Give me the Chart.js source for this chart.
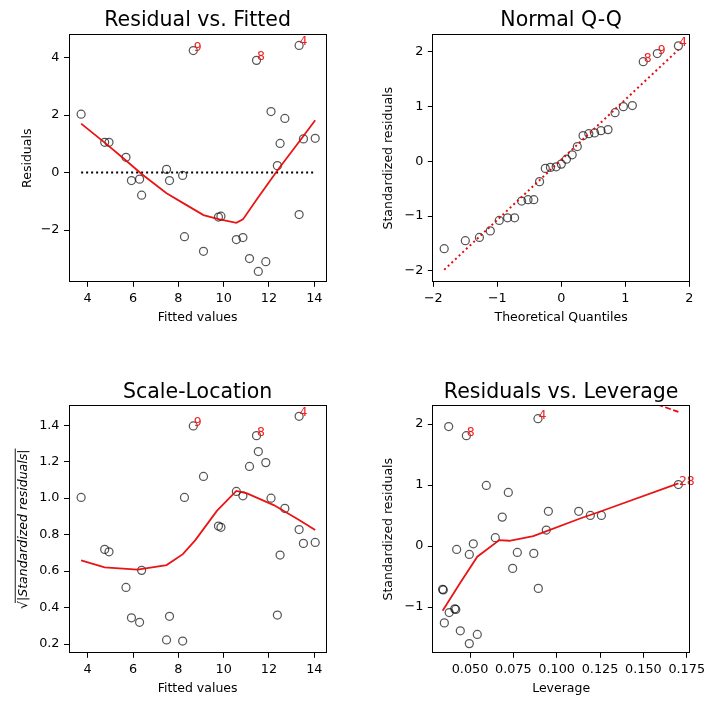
<!DOCTYPE html>
<html><head><meta charset="utf-8">
<script src="https://cdn.jsdelivr.net/npm/chart.js@4.4.1/dist/chart.umd.min.js"></script>
<style>
html,body{margin:0;padding:0;background:#fff;}
#wrap{position:relative;width:715px;height:706px;overflow:hidden;background:#fff;}
canvas{position:absolute;}
</style></head><body>
<div id="wrap">
<canvas id="c1" width="357" height="353" style="left:0;top:0"></canvas>
<canvas id="c2" width="358" height="353" style="left:357px;top:0"></canvas>
<canvas id="c3" width="357" height="353" style="left:0;top:353px"></canvas>
<canvas id="c4" width="358" height="353" style="left:357px;top:353px"></canvas>
</div>
<script>
// ---------- data ----------
// Residual vs. Fitted / Scale-Location (same observations, ordered by fitted value)
const fitted    = [3.71, 4.75, 4.94, 5.69, 5.93, 6.29, 6.38, 7.48, 7.61, 8.19, 8.27, 8.66, 9.11, 9.77, 9.88, 10.56, 10.85, 11.14, 11.45, 11.53, 11.86, 12.09, 12.37, 12.49, 12.70, 13.33, 13.33, 13.52, 14.04];
const residuals = [2.03, 1.05, 1.05, 0.53, -0.28, -0.23, -0.79, 0.11, -0.28, -0.10, -2.23, 4.24, -2.74, -1.55, -1.52, -2.33, -2.26, -2.99, 3.90, -3.44, -3.10, 2.12, 0.24, 1.01, 1.88, -1.46, 4.42, 1.17, 1.19];
const sqrtStdResid = [1.004, 0.719, 0.706, 0.510, 0.344, 0.319, 0.604, 0.222, 0.352, 0.216, 1.004, 1.396, 1.119, 0.847, 0.840, 1.037, 1.013, 1.174, 1.343, 1.256, 1.195, 1.000, 0.359, 0.688, 0.944, 0.828, 1.449, 0.752, 0.757];
const fittedLabelIdx = [11, 18, 26];
const fittedLabelText = ['9', '8', '4'];

const lowess1X = [3.71, 4.75, 5.69, 6.38, 7.48, 8.27, 9.11, 9.77, 10.56, 10.85, 11.45, 12.37, 13.33, 14.04];
const lowess1Y = [1.70, 1.04, 0.42, -0.05, -0.72, -1.09, -1.48, -1.62, -1.75, -1.63, -0.95, 0.07, 1.07, 1.82];
const zeroLineX = [3.71, 14.04];
const zeroLineY = [0, 0];

const lowess3X = [3.71, 4.75, 6.20, 7.48, 8.20, 8.75, 9.70, 10.56, 11.03, 12.21, 13.33, 14.04];
const lowess3Y = [0.659, 0.620, 0.608, 0.633, 0.693, 0.770, 0.930, 1.040, 1.026, 0.962, 0.880, 0.825];

// Normal Q-Q
const theoQuant = [-1.83, -1.50, -1.28, -1.11, -0.97, -0.84, -0.73, -0.62, -0.52, -0.43, -0.34, -0.25, -0.17, -0.08, 0.00, 0.08, 0.17, 0.25, 0.34, 0.43, 0.52, 0.62, 0.73, 0.84, 0.97, 1.11, 1.28, 1.50, 1.83];
const sortedStdResid = [-1.595, -1.45, -1.39, -1.27, -1.08, -1.03, -1.03, -0.725, -0.70, -0.70, -0.37, -0.128, -0.11, -0.10, -0.05, 0.04, 0.12, 0.27, 0.47, 0.505, 0.52, 0.56, 0.58, 0.89, 1.00, 1.02, 1.82, 1.97, 2.11];
const qqLabelIdx = [26, 27, 28];
const qqLabelText = ['8', '9', '4'];
const qqLineX = [-1.83, 1.83];
const qqLineY = [-1.98, 2.04];

// Residuals vs. Leverage
const leverage = [0.0377, 0.0479, 0.0892, 0.0594, 0.0721, 0.0686, 0.0952, 0.1127, 0.1194, 0.1258, 0.1702, 0.0940, 0.0646, 0.0519, 0.0423, 0.0496, 0.0773, 0.0868, 0.0746, 0.0894, 0.0342, 0.0346, 0.0412, 0.0418, 0.0380, 0.0352, 0.0444, 0.0542, 0.0496];
const levStdResid = [1.96, 1.81, 2.09, 0.995, 0.88, 0.475, 0.57, 0.57, 0.503, 0.503, 1.01, 0.262, 0.137, 0.038, -0.055, -0.137, -0.104, -0.12, -0.366, -0.694, -0.71, -0.72, -1.03, -1.04, -1.09, -1.26, -1.39, -1.45, -1.60];
const levLabelIdx = [2, 1, 10];
const levLabelText = ['4', '8', '28'];
const lowess4X = [0.0342, 0.0442, 0.0542, 0.0669, 0.0727, 0.0865, 0.0942, 0.1135, 0.1260, 0.1702];
const lowess4Y = [-1.06, -0.61, -0.175, 0.098, 0.087, 0.164, 0.246, 0.452, 0.575, 1.03];
const cookX = [0.158, 0.1702];
const cookY = [2.325, 2.20];

// tick values
const xTicksFitted = [4, 6, 8, 10, 12, 14];
const yTicksResid = [-2, 0, 2, 4];
const xTicksQQ = [-2, -1, 0, 1, 2];
const yTicksQQ = [-2, -1, 0, 1, 2];
const yTicksScale = [0.2, 0.4, 0.6, 0.8, 1.0, 1.2, 1.4];
const xTicksLev = [0.050, 0.075, 0.100, 0.125, 0.150, 0.175];
const yTicksLev = [-1, 0, 1, 2];

// ---------- drawing ----------
const FONT = '"DejaVu Sans", "Noto Sans", sans-serif';
Chart.defaults.font.family = FONT;
Chart.defaults.color = '#000';

const pts = (xs, ys) => xs.map((x, i) => ({x: x, y: ys[i]}));
const fmt = (v, d) => Number(v).toFixed(d).replace('-', '\u2212');

const framePlugin = {
  id: 'frame',
  afterDraw(chart) {
    const a = chart.chartArea, ctx = chart.ctx;
    ctx.save();
    ctx.strokeStyle = '#000';
    ctx.lineWidth = 1;
    const l = Math.round(a.left) + 0.5, t = Math.round(a.top) + 0.5;
    const r = Math.round(a.right) - 0.5, b = Math.round(a.bottom) - 0.5;
    ctx.strokeRect(l, t, r - l, b - t);
    ctx.restore();
  }
};

function labelPlugin(xs, ys, idx, texts) {
  return {
    id: 'ptlabels',
    afterDatasetsDraw(chart) {
      const ctx = chart.ctx, sx = chart.scales.x, sy = chart.scales.y;
      ctx.save();
      ctx.font = '12.5px ' + FONT;
      ctx.fillStyle = 'rgba(238,20,20,0.95)';
      ctx.textAlign = 'left';
      ctx.textBaseline = 'alphabetic';
      idx.forEach((k, j) => {
        ctx.fillText(texts[j], sx.getPixelForValue(xs[k]) + 0.5, sy.getPixelForValue(ys[k]));
      });
      ctx.restore();
    }
  };
}

const sqrtBarPlugin = {
  id: 'sqrtbar',
  afterDraw(chart) {
    const s = chart.scales.y, ctx = chart.ctx;
    const t = s.options.title;
    const fs = t.font.size;
    const cx = s.left + t.padding.top + fs * 1.2 / 2;
    const cy = (s.top + s.bottom) / 2;
    ctx.save();
    ctx.font = 'italic ' + fs + 'px ' + FONT;
    ctx.textBaseline = 'middle';
    const w = ctx.measureText(t.text).width;
    const sw = ctx.measureText('\u221A').width;
    ctx.translate(cx, cy);
    ctx.rotate(-Math.PI / 2);
    ctx.strokeStyle = '#000';
    ctx.lineWidth = 0.9;
    ctx.beginPath();
    ctx.moveTo(-w / 2 + sw * 0.75, -fs * 0.66);
    ctx.lineTo(w / 2 + 1, -fs * 0.66);
    ctx.stroke();
    ctx.restore();
  }
};

function panel(id, o) {
  const gridOpts = {display: true, drawOnChartArea: false, drawTicks: true, tickLength: 4.5, color: '#000', lineWidth: 1};
  return new Chart(document.getElementById(id), {
    type: 'scatter',
    data: {datasets: o.datasets},
    options: {
      responsive: false,
      animation: false,
      events: [],
      layout: {padding: {left: 0, right: o.padRight, top: 0, bottom: o.padBottom}},
      plugins: {
        legend: {display: false},
        tooltip: {enabled: false},
        title: {
          display: true, text: o.title, fullSize: false, color: '#000',
          font: {size: 20.5, family: FONT, weight: 'normal', lineHeight: 1.2},
          padding: {top: o.titleTop, bottom: o.titleBottom}
        }
      },
      scales: {
        x: {
          type: 'linear', position: 'bottom', min: o.xMin, max: o.xMax,
          afterBuildTicks: s => { s.ticks = o.xTicks.map(v => ({value: v})); },
          afterFit: s => { s.height = 44; },
          ticks: {autoSkip: false, maxRotation: 0, minRotation: 0, padding: 4.3, color: '#000',
                  font: {size: 12.8, family: FONT}, callback: v => fmt(v, o.xDec)},
          grid: gridOpts,
          border: {display: false},
          title: {display: true, text: o.xTitle, color: '#000', font: {size: 12.5, family: FONT, lineHeight: 1.2},
                  padding: {top: 0, bottom: 0.8}}
        },
        y: {
          type: 'linear', position: 'left', min: o.yMin, max: o.yMax,
          afterBuildTicks: s => { s.ticks = o.yTicks.map(v => ({value: v})); },
          afterFit: s => { s.width = o.yAxisW; },
          ticks: {autoSkip: false, padding: 4.5, color: '#000',
                  font: {size: 12.8, family: FONT}, callback: v => fmt(v, o.yDec)},
          grid: gridOpts,
          border: {display: false},
          title: {display: true, text: o.yTitle, color: '#000',
                  font: {size: 12.5, family: FONT, lineHeight: 1.2, style: o.yTitleStyle || 'normal'},
                  padding: {top: o.yTitlePad, bottom: 0}}
        }
      }
    },
    plugins: [framePlugin].concat(o.plugins || [])
  });
}

const pointStyle = {
  showLine: false, pointRadius: 4, pointHoverRadius: 4, pointBorderWidth: 1.25,
  borderColor: 'rgba(0,0,0,0.66)', backgroundColor: 'rgba(0,0,0,0)',
  pointBorderColor: 'rgba(0,0,0,0.66)', pointBackgroundColor: 'rgba(0,0,0,0)'
};
const lineStyle = (color, width, dash) => ({
  showLine: true, pointRadius: 0, pointHoverRadius: 0, borderColor: color, borderWidth: width,
  borderDash: dash || [], tension: 0, fill: false
});

// Panel 1: Residual vs. Fitted
panel('c1', {
  title: 'Residual vs. Fitted', titleTop: 8.6, titleBottom: 1.0, padBottom: 26.7, padRight: 30.3, yAxisW: 68.5,
  xMin: 3.153, xMax: 14.547, yMin: -3.817, yMax: 4.81,
  xTicks: xTicksFitted, yTicks: yTicksResid, xDec: 0, yDec: 0,
  xTitle: 'Fitted values', yTitle: 'Residuals', yTitlePad: 20,
  datasets: [
    Object.assign({data: pts(lowess1X, lowess1Y)}, lineStyle('rgba(232,0,0,0.92)', 1.8)),
    Object.assign({data: pts(zeroLineX, zeroLineY)}, lineStyle('#000', 2, [2, 3])),
    Object.assign({data: pts(fitted, residuals)}, pointStyle)
  ],
  plugins: [labelPlugin(fitted, residuals, fittedLabelIdx, fittedLabelText)]
});

// Panel 2: Normal Q-Q
panel('c2', {
  title: 'Normal Q-Q', titleTop: 8.6, titleBottom: 1.0, padBottom: 26.7, padRight: 25, yAxisW: 75.3,
  xMin: -2.016, xMax: 2.011, yMin: -2.209, yMax: 2.323,
  xTicks: xTicksQQ, yTicks: yTicksQQ, xDec: 0, yDec: 0,
  xTitle: 'Theoretical Quantiles', yTitle: 'Standardized residuals', yTitlePad: 24.5,
  datasets: [
    Object.assign({data: pts(qqLineX, qqLineY)}, lineStyle('rgba(225,0,0,0.95)', 2, [2, 3])),
    Object.assign({data: pts(theoQuant, sortedStdResid)}, pointStyle)
  ],
  plugins: [labelPlugin(theoQuant, sortedStdResid, qqLabelIdx, qqLabelText)]
});

// Panel 3: Scale-Location
panel('c3', {
  title: 'Scale-Location', titleTop: 26.9, titleBottom: 0.7, padBottom: 8.7, padRight: 30.3, yAxisW: 68.5,
  xMin: 3.153, xMax: 14.547, yMin: 0.149, yMax: 1.51,
  xTicks: xTicksFitted, yTicks: yTicksScale, xDec: 0, yDec: 1,
  xTitle: 'Fitted values', yTitle: '\u221A|Standardized residuals|', yTitleStyle: 'italic', yTitlePad: 16,
  datasets: [
    Object.assign({data: pts(lowess3X, lowess3Y)}, lineStyle('rgba(232,0,0,0.92)', 1.8)),
    Object.assign({data: pts(fitted, sqrtStdResid)}, pointStyle)
  ],
  plugins: [labelPlugin(fitted, sqrtStdResid, fittedLabelIdx, fittedLabelText), sqrtBarPlugin]
});

// Panel 4: Residuals vs. Leverage
panel('c4', {
  title: 'Residuals vs. Leverage', titleTop: 26.9, titleBottom: 0.7, padBottom: 8.7, padRight: 25, yAxisW: 75.3,
  xMin: 0.02825, xMax: 0.1769, yMin: -1.759, yMax: 2.311,
  xTicks: xTicksLev, yTicks: yTicksLev, xDec: 3, yDec: 0,
  xTitle: 'Leverage', yTitle: 'Standardized residuals', yTitlePad: 24.5,
  datasets: [
    Object.assign({data: pts(lowess4X, lowess4Y)}, lineStyle('rgba(232,0,0,0.92)', 1.8)),
    Object.assign({data: pts(cookX, cookY), clip: 0}, lineStyle('rgba(225,0,0,0.95)', 1.8, [6, 2.5])),
    Object.assign({data: pts(leverage, levStdResid)}, pointStyle)
  ],
  plugins: [labelPlugin(leverage, levStdResid, levLabelIdx, levLabelText)]
});
</script>
</body></html>
